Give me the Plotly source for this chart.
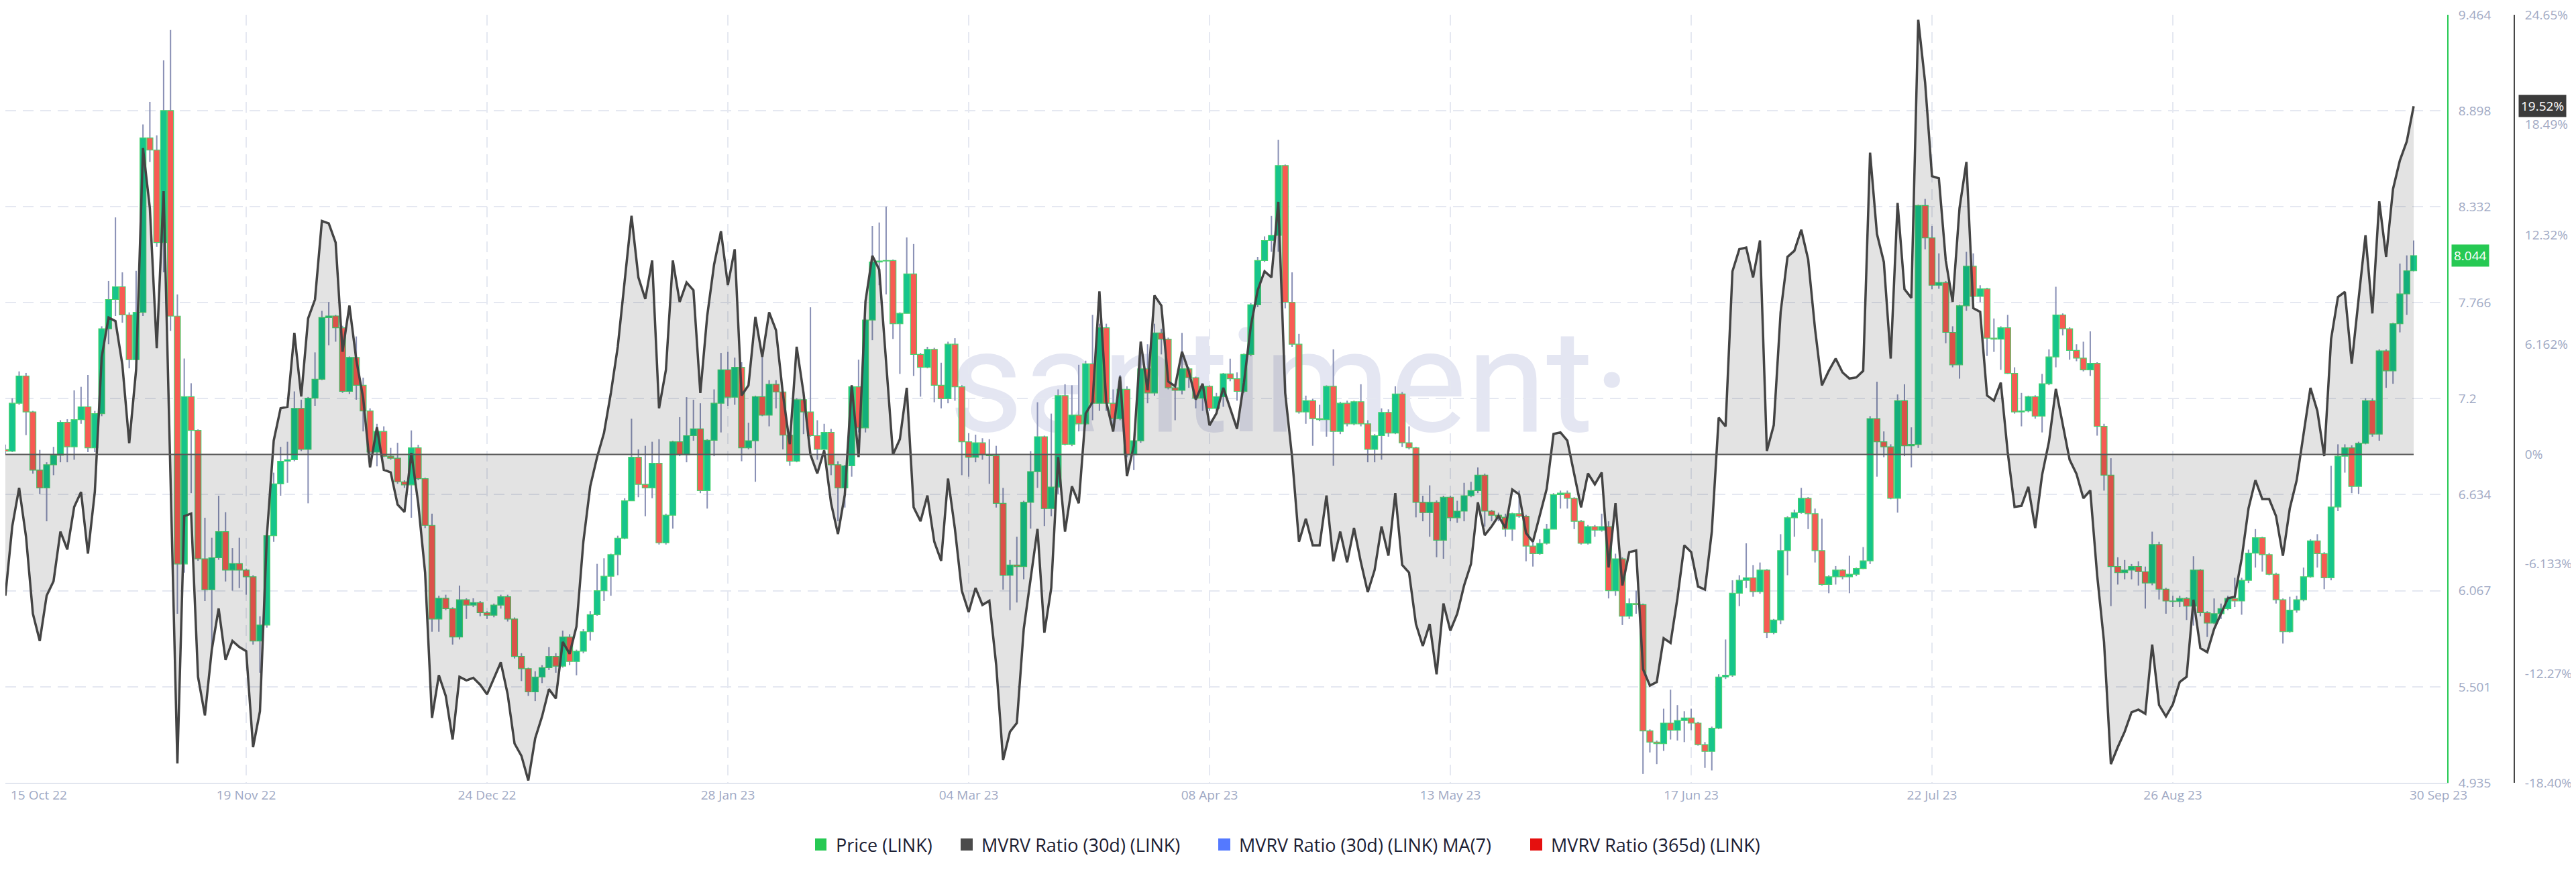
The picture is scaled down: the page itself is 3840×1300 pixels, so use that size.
import pandas as pd
import plotly.graph_objects as go

# ---------------- data ----------------
START_DATE = "2022-10-15"

opens = [
    6.90, 6.89, 7.173, 7.334, 7.122, 6.779, 6.674, 6.810, 6.867, 7.061,
    6.916, 7.076, 7.152, 6.910, 7.112, 7.612, 7.785, 7.860, 7.694, 7.430,
    7.709, 8.738, 8.666, 8.121, 8.899, 7.687, 6.225, 7.212, 7.013, 6.256,
    6.074, 6.262, 6.416, 6.189, 6.228, 6.189, 6.150, 5.771, 5.865, 6.392,
    6.698, 6.831, 6.840, 7.143, 6.901, 7.203, 7.315, 7.679, 7.688, 7.618,
    7.243, 7.443, 7.279, 7.128, 6.885, 7.007, 6.861, 6.849, 6.710, 6.692,
    6.910, 6.728, 6.453, 5.901, 6.023, 5.962, 5.795, 6.014, 5.983, 5.998,
    5.938, 5.923, 5.983, 6.032, 5.901, 5.680, 5.608, 5.471, 5.559, 5.614,
    5.680, 5.623, 5.795, 5.650, 5.711, 5.826, 5.926, 6.068, 6.153, 6.280,
    6.377, 6.598, 6.855, 6.695, 6.674, 6.819, 6.350, 6.513, 6.946, 6.870,
    6.982, 7.022, 6.658, 6.955, 7.173, 7.370, 7.209, 7.385, 6.910, 6.952,
    7.212, 7.103, 7.285, 7.240, 6.985, 6.831, 7.194, 7.122, 6.982, 6.901,
    7.001, 6.810, 6.674, 6.804, 7.270, 7.028, 7.664, 8.006, 8.012, 8.015,
    7.642, 7.703, 7.936, 7.461, 7.385, 7.491, 7.279, 7.200, 7.521, 7.270,
    6.946, 6.855, 6.940, 6.870, 6.864, 6.583, 6.159, 6.219, 6.210, 6.589,
    6.770, 6.976, 6.552, 6.679, 7.218, 6.931, 7.103, 7.052, 7.406, 7.173,
    7.618, 7.173, 7.082, 7.255, 6.870, 6.952, 7.376, 7.234, 7.588, 7.551,
    7.264, 7.249, 7.376, 7.324, 7.203, 7.273, 7.143, 7.212, 7.346, 7.318,
    7.243, 7.461, 7.754, 8.015, 8.133, 8.163, 8.575, 7.769, 7.521, 7.122,
    7.188, 7.082, 7.076, 7.273, 7.007, 7.173, 7.052, 7.182, 7.052, 6.901,
    6.982, 7.119, 6.997, 7.228, 6.940, 6.910, 6.589, 6.528, 6.589, 6.365,
    6.619, 6.498, 6.537, 6.628, 6.658, 6.749, 6.537, 6.513, 6.501, 6.431,
    6.522, 6.507, 6.331, 6.286, 6.347, 6.431, 6.634, 6.643, 6.613, 6.477,
    6.347, 6.446, 6.425, 6.446, 6.068, 6.256, 5.917, 5.992, 5.986, 5.241,
    5.175, 5.166, 5.287, 5.245, 5.302, 5.317, 5.287, 5.160, 5.120, 5.257,
    5.559, 5.569, 6.053, 6.129, 6.144, 6.062, 6.189, 5.820, 5.895, 6.304,
    6.498, 6.528, 6.613, 6.522, 6.304, 6.104, 6.150, 6.189, 6.150, 6.165,
    6.198, 6.244, 7.082, 6.946, 6.916, 6.613, 7.188, 6.922, 6.930, 8.339,
    8.148, 7.869, 7.885, 7.591, 7.400, 7.748, 7.981, 7.803, 7.848, 7.557,
    7.551, 7.618, 7.349, 7.122, 7.128, 7.212, 7.097, 7.288, 7.446, 7.694,
    7.612, 7.485, 7.439, 7.370, 7.409, 7.037, 6.749, 6.210, 6.174, 6.189,
    6.210, 6.180, 6.113, 6.340, 6.077, 6.007, 6.004, 6.022, 5.977, 6.189,
    5.938, 5.877, 5.932, 5.962, 6.022, 6.007, 6.129, 6.289, 6.380, 6.280,
    6.165, 6.014, 5.826, 5.953, 6.014, 6.150, 6.362, 6.286, 6.144, 6.561,
    6.861, 6.910, 6.683, 6.937, 7.188, 6.991, 7.482, 7.364, 7.642, 7.818, 7.954,
]

closes = [
    6.89, 7.173, 7.334, 7.122, 6.779, 6.674, 6.810, 6.867, 7.061, 6.916,
    7.076, 7.152, 6.910, 7.112, 7.612, 7.785, 7.860, 7.694, 7.430, 7.709,
    8.738, 8.666, 8.121, 8.899, 7.687, 6.225, 7.212, 7.013, 6.256, 6.074,
    6.262, 6.416, 6.189, 6.228, 6.189, 6.150, 5.771, 5.865, 6.392, 6.698,
    6.831, 6.840, 7.143, 6.901, 7.203, 7.315, 7.679, 7.688, 7.618, 7.243,
    7.443, 7.279, 7.128, 6.885, 7.007, 6.861, 6.849, 6.710, 6.692, 6.910,
    6.728, 6.453, 5.901, 6.023, 5.962, 5.795, 6.014, 5.983, 5.998, 5.938,
    5.923, 5.983, 6.032, 5.901, 5.680, 5.608, 5.471, 5.559, 5.614, 5.680,
    5.623, 5.795, 5.650, 5.711, 5.826, 5.926, 6.068, 6.153, 6.280, 6.377,
    6.598, 6.855, 6.695, 6.674, 6.819, 6.350, 6.513, 6.946, 6.870, 6.982,
    7.022, 6.658, 6.955, 7.173, 7.370, 7.209, 7.385, 6.910, 6.952, 7.212,
    7.103, 7.285, 7.240, 6.985, 6.831, 7.194, 7.122, 6.982, 6.901, 7.001,
    6.810, 6.674, 6.804, 7.270, 7.028, 7.664, 8.006, 8.012, 8.015, 7.642,
    7.703, 7.936, 7.461, 7.385, 7.491, 7.279, 7.200, 7.521, 7.270, 6.946,
    6.855, 6.940, 6.870, 6.864, 6.583, 6.159, 6.219, 6.210, 6.589, 6.770,
    6.976, 6.552, 6.679, 7.218, 6.931, 7.103, 7.052, 7.406, 7.173, 7.618,
    7.173, 7.082, 7.255, 6.870, 6.952, 7.376, 7.234, 7.588, 7.551, 7.264,
    7.249, 7.376, 7.324, 7.203, 7.273, 7.143, 7.212, 7.346, 7.318, 7.243,
    7.461, 7.754, 8.015, 8.133, 8.163, 8.575, 7.769, 7.521, 7.122, 7.188,
    7.082, 7.076, 7.273, 7.007, 7.173, 7.052, 7.182, 7.052, 6.901, 6.982,
    7.119, 6.997, 7.228, 6.940, 6.910, 6.589, 6.528, 6.589, 6.365, 6.619,
    6.498, 6.537, 6.628, 6.658, 6.749, 6.537, 6.513, 6.501, 6.431, 6.522,
    6.507, 6.331, 6.286, 6.347, 6.431, 6.634, 6.643, 6.613, 6.477, 6.347,
    6.446, 6.425, 6.446, 6.068, 6.256, 5.917, 5.992, 5.986, 5.241, 5.175,
    5.166, 5.287, 5.245, 5.302, 5.317, 5.287, 5.160, 5.120, 5.257, 5.559,
    5.569, 6.053, 6.129, 6.144, 6.062, 6.189, 5.820, 5.895, 6.304, 6.498,
    6.528, 6.613, 6.522, 6.304, 6.104, 6.150, 6.189, 6.150, 6.165, 6.198,
    6.244, 7.082, 6.946, 6.916, 6.613, 7.188, 6.922, 6.930, 8.339, 8.148,
    7.869, 7.885, 7.591, 7.400, 7.748, 7.981, 7.803, 7.848, 7.557, 7.551,
    7.618, 7.349, 7.122, 7.128, 7.212, 7.097, 7.288, 7.446, 7.694, 7.612,
    7.485, 7.439, 7.370, 7.409, 7.037, 6.749, 6.210, 6.174, 6.189, 6.210,
    6.180, 6.113, 6.340, 6.077, 6.007, 6.004, 6.022, 5.977, 6.189, 5.938,
    5.877, 5.932, 5.962, 6.022, 6.007, 6.129, 6.289, 6.380, 6.280, 6.165,
    6.014, 5.826, 5.953, 6.014, 6.150, 6.362, 6.286, 6.144, 6.561, 6.861,
    6.910, 6.683, 6.937, 7.188, 6.991, 7.482, 7.364, 7.642, 7.818, 7.954, 8.044,
]

highs = [
    6.93, 7.203, 7.361, 7.352, 7.128, 6.898, 6.825, 6.916, 7.073, 7.079,
    7.249, 7.270, 7.340, 7.128, 7.627, 7.894, 8.269, 7.945, 7.709, 7.954,
    8.817, 8.950, 8.753, 9.195, 9.374, 7.815, 7.437, 7.291, 7.019, 6.498,
    6.380, 6.628, 6.531, 6.319, 6.380, 6.198, 6.159, 5.917, 6.401, 6.764,
    6.916, 6.946, 7.243, 7.194, 7.210, 7.473, 7.718, 7.770, 7.694, 7.630,
    7.449, 7.567, 7.324, 7.143, 7.052, 7.037, 6.910, 6.940, 6.719, 7.013,
    6.928, 6.734, 6.522, 6.038, 6.044, 5.970, 6.098, 6.023, 6.023, 6.007,
    5.947, 5.992, 6.044, 6.044, 5.910, 5.699, 5.614, 5.593, 5.629, 5.735,
    5.699, 5.832, 5.811, 5.720, 5.841, 5.947, 6.226, 6.259, 6.286, 6.392,
    6.613, 7.082, 6.901, 6.922, 6.946, 6.961, 6.522, 6.952, 7.091, 7.209,
    7.194, 7.173, 6.961, 7.255, 7.470, 7.476, 7.442, 7.415, 7.058, 7.218,
    7.445, 7.309, 7.309, 7.243, 6.990, 7.203, 7.203, 7.739, 7.073, 7.052,
    7.022, 6.831, 6.810, 7.279, 7.430, 7.673, 8.218, 8.239, 8.333, 8.021,
    7.709, 8.151, 8.112, 7.470, 7.506, 7.500, 7.412, 7.536, 7.557, 7.280,
    6.997, 6.988, 6.967, 6.961, 6.922, 6.674, 6.249, 6.386, 6.598, 6.891,
    7.179, 6.982, 7.112, 7.255, 7.285, 7.279, 7.400, 7.424, 7.694, 7.642,
    7.642, 7.255, 7.340, 7.273, 6.961, 7.521, 7.521, 7.642, 7.612, 7.560,
    7.279, 7.588, 7.385, 7.330, 7.279, 7.279, 7.234, 7.352, 7.436, 7.355,
    7.467, 7.763, 8.036, 8.157, 8.278, 8.726, 8.581, 7.945, 7.582, 7.218,
    7.200, 7.164, 7.279, 7.491, 7.182, 7.188, 7.188, 7.285, 7.073, 6.991,
    7.143, 7.137, 7.273, 7.240, 7.037, 6.916, 6.628, 6.689, 6.600, 6.628,
    6.628, 6.598, 6.704, 6.710, 6.795, 6.758, 6.545, 6.528, 6.522, 6.528,
    6.658, 6.515, 6.356, 6.371, 6.462, 6.643, 6.658, 6.658, 6.619, 6.485,
    6.455, 6.455, 6.522, 6.477, 6.286, 6.265, 6.022, 6.068, 5.992, 5.250,
    5.184, 5.372, 5.484, 5.393, 5.357, 5.372, 5.295, 5.175, 5.266, 5.575,
    5.780, 6.129, 6.159, 6.347, 6.219, 6.234, 6.195, 5.901, 6.401, 6.507,
    6.546, 6.674, 6.620, 6.552, 6.492, 6.159, 6.213, 6.195, 6.274, 6.204,
    6.325, 7.097, 7.300, 7.007, 6.931, 7.225, 7.285, 7.031, 8.345, 8.378,
    8.218, 8.057, 7.894, 7.627, 7.754, 8.066, 8.057, 7.869, 7.854, 7.673,
    7.627, 7.694, 7.385, 7.234, 7.218, 7.220, 7.346, 7.491, 7.860, 7.703,
    7.621, 7.521, 7.536, 7.597, 7.415, 7.052, 6.849, 6.265, 6.249, 6.225,
    6.241, 6.210, 6.416, 6.356, 6.085, 6.038, 6.038, 6.030, 6.271, 6.195,
    5.947, 6.022, 5.992, 6.038, 6.144, 6.144, 6.310, 6.431, 6.386, 6.290,
    6.174, 6.022, 6.032, 6.038, 6.204, 6.371, 6.401, 6.295, 6.804, 6.931,
    6.931, 6.925, 6.946, 7.203, 7.203, 7.491, 7.491, 7.648, 7.997, 8.045, 8.133,
]

lows = [
    6.87, 6.885, 7.164, 6.985, 6.758, 6.637, 6.477, 6.749, 6.825, 6.825,
    6.840, 7.052, 6.885, 6.885, 7.097, 7.521, 7.688, 7.648, 7.379, 7.430,
    7.688, 8.596, 8.096, 7.945, 7.600, 5.932, 6.174, 6.643, 6.244, 6.007,
    5.735, 6.250, 6.122, 6.068, 6.083, 6.044, 5.750, 5.584, 5.850, 6.356,
    6.628, 6.704, 6.831, 6.891, 6.583, 7.158, 7.309, 7.515, 7.536, 7.234,
    7.228, 7.194, 7.007, 6.870, 6.801, 6.855, 6.840, 6.698, 6.674, 6.498,
    6.719, 6.437, 5.826, 5.826, 5.953, 5.750, 5.780, 5.901, 5.971, 5.917,
    5.901, 5.911, 5.962, 5.886, 5.668, 5.535, 5.447, 5.417, 5.523, 5.600,
    5.584, 5.614, 5.629, 5.569, 5.699, 5.774, 5.920, 6.007, 6.038, 6.159,
    6.371, 6.598, 6.619, 6.507, 6.613, 6.340, 6.340, 6.434, 6.861, 6.825,
    6.952, 6.643, 6.552, 6.861, 7.001, 7.158, 7.164, 6.831, 6.901, 6.710,
    7.097, 7.037, 7.143, 6.901, 6.804, 6.825, 6.991, 6.976, 6.840, 6.885,
    6.749, 6.477, 6.558, 6.740, 7.001, 7.001, 7.545, 7.869, 7.815, 7.552,
    7.346, 7.703, 7.334, 7.212, 7.379, 7.179, 7.143, 7.173, 7.188, 6.749,
    6.740, 6.825, 6.840, 6.698, 6.558, 6.074, 5.953, 5.998, 6.135, 6.434,
    6.674, 6.449, 6.507, 6.637, 6.925, 6.920, 7.007, 7.043, 7.073, 7.128,
    7.128, 7.007, 7.073, 6.855, 6.779, 6.940, 7.173, 7.218, 7.461, 7.255,
    7.073, 7.225, 7.264, 7.143, 7.128, 7.128, 7.128, 7.152, 7.303, 7.188,
    7.234, 7.450, 7.740, 8.006, 8.066, 8.066, 7.733, 7.506, 7.112, 7.052,
    6.922, 7.067, 6.976, 6.804, 6.991, 7.037, 7.043, 7.037, 6.825, 6.825,
    6.840, 6.976, 6.991, 6.916, 6.901, 6.500, 6.477, 6.386, 6.265, 6.256,
    6.477, 6.468, 6.477, 6.619, 6.643, 6.446, 6.477, 6.477, 6.386, 6.362,
    6.498, 6.241, 6.210, 6.280, 6.340, 6.431, 6.552, 6.552, 6.431, 6.340,
    6.340, 6.386, 6.416, 6.022, 6.038, 5.865, 5.901, 5.932, 4.987, 5.114,
    5.045, 5.123, 5.190, 5.184, 5.175, 5.245, 5.154, 5.023, 5.008, 5.251,
    5.547, 5.560, 5.977, 6.083, 6.032, 6.050, 5.789, 5.811, 5.871, 6.159,
    6.386, 6.522, 6.431, 6.234, 6.098, 6.053, 6.104, 6.135, 6.053, 6.153,
    6.195, 6.225, 6.740, 6.855, 6.607, 6.528, 6.861, 6.795, 6.910, 8.081,
    7.845, 7.848, 7.527, 7.385, 7.318, 7.718, 7.779, 7.769, 7.452, 7.476,
    7.370, 7.346, 7.112, 7.037, 7.120, 7.082, 7.001, 7.280, 7.385, 7.573,
    7.430, 7.421, 7.361, 7.334, 6.982, 6.658, 5.977, 6.104, 6.135, 6.135,
    6.098, 5.962, 6.100, 6.016, 5.932, 5.971, 5.971, 5.895, 5.862, 5.917,
    5.795, 5.871, 5.901, 5.953, 5.971, 5.926, 6.113, 6.204, 6.180, 6.159,
    5.992, 5.756, 5.820, 5.938, 6.005, 6.144, 6.204, 6.077, 6.129, 6.537,
    6.764, 6.643, 6.637, 6.931, 6.976, 6.952, 7.264, 7.288, 7.591, 7.694, 7.951,
]

mvrv_30d = [
    -7.91, -4.03, -1.87, -4.6, -8.92, -10.45, -7.91, -7.1, -4.32, -5.32,
    -2.94, -2.1, -5.55, -2.1, 5.47, 7.68, 7.48, 5.04, 0.63, 4.75,
    17.18, 13.81, 5.96, 14.76, -1.3, -17.32, -3.45, -3.31, -12.46, -14.62,
    -10.94, -8.63, -11.51, -10.45, -10.79, -11.02, -16.4, -14.39, -4.6, 0.78,
    2.59, 2.68, 6.82, 3.25, 7.63, 8.69, 13.09, 12.95, 11.88, 5.76,
    8.35, 5.32, 3.17, -0.72, 1.53, -0.86, -1.0, -2.8, -3.22, 0.09,
    -2.73, -6.62, -14.76, -12.37, -13.53, -15.97, -12.46, -12.66, -12.52, -12.9,
    -13.44, -12.52, -11.65, -13.44, -16.2, -16.89, -18.27, -15.91, -14.68, -13.15,
    -13.67, -10.5, -11.17, -9.64, -4.89, -1.78, -0.14, 1.21, 3.45, 6.04,
    9.64, 13.38, 9.93, 8.72, 10.88, 2.59, 4.75, 10.88, 8.55, 9.64,
    9.21, 3.45, 7.77, 10.65, 12.52, 9.5, 11.51, 3.31, 3.88, 7.71,
    5.47, 7.97, 6.96, 3.4, 0.58, 6.04, 3.45, 0.0, -1.06, 0.23,
    -2.73, -4.46, -2.24, 3.88, -0.14, 8.58, 11.14, 10.36, 5.18, 0.0,
    0.86, 3.74, -2.96, -3.74, -2.3, -4.89, -5.96, -1.35, -4.17, -7.63,
    -8.83, -7.48, -8.43, -8.2, -11.8, -17.12, -15.54, -15.05, -9.78, -7.05,
    -4.17, -9.99, -7.48, -0.14, -4.32, -1.78, -2.73, 2.3, 2.94, 9.15,
    2.94, 1.29, 4.37, -1.21, 0.49, 6.33, 3.6, 8.92, 8.35, 4.09,
    3.83, 5.76, 4.66, 3.08, 3.97, 1.64, 2.3, 3.74, 2.59, 1.44,
    4.03, 7.19, 9.21, 10.27, 9.93, 14.16, 3.45, -0.14, -4.89, -3.6,
    -5.09, -5.09, -2.3, -5.99, -4.32, -6.04, -4.12, -6.04, -7.71, -6.47,
    -4.03, -5.67, -2.16, -6.19, -6.62, -9.5, -10.73, -9.5, -12.32, -8.35,
    -9.87, -8.92, -7.34, -6.13, -2.68, -4.52, -4.03, -3.45, -4.12, -1.96,
    -2.24, -4.4, -4.89, -3.45, -1.93, 1.15, 1.24, 0.78, -1.06, -2.96,
    -1.06, -1.67, -1.01, -6.33, -2.73, -7.34, -5.47, -5.38, -12.03, -12.95,
    -12.75, -10.3, -10.56, -8.06, -5.09, -5.47, -7.4, -7.57, -4.32, 2.07,
    1.58, 10.27, 11.51, 11.6, 9.93, 12.0, 0.2, 1.64, 7.97, 11.08,
    11.42, 12.6, 10.94, 7.05, 3.88, 4.69, 5.38, 4.6, 4.26, 4.32,
    4.69, 16.92, 12.37, 10.79, 5.38, 14.1, 9.27, 8.78, 24.37, 20.86,
    15.6, 15.48, 10.88, 8.55, 13.81, 16.4, 8.2, 8.0, 3.31, 3.02,
    4.03, 0.14, -2.94, -2.88, -1.81, -4.12, -1.15, 0.72, 3.68, 1.73,
    -0.29, -1.09, -2.45, -2.01, -6.76, -10.5, -17.35, -16.4, -15.54, -14.45,
    -14.3, -14.53, -10.65, -14.04, -14.68, -14.01, -12.75, -12.46, -8.14, -10.85,
    -11.08, -9.78, -8.92, -8.06, -7.97, -5.84, -3.02, -1.44, -2.5, -2.5,
    -3.45, -5.67, -3.02, -1.44, 1.15, 3.74, 2.45, -0.09, 6.47, 8.83,
    9.12, 5.09, 8.72, 12.29, 7.91, 14.19, 11.08, 14.88, 16.49, 17.55, 19.52,
]

price_ticks = [9.464, 8.898, 8.332, 7.766, 7.2, 6.634, 6.067, 5.501, 4.935]
price_tick_text = ["9.464", "8.898", "8.332", "7.766", "7.2", "6.634", "6.067", "5.501", "4.935"]
mvrv_ticks = [24.65, 18.49, 12.32, 6.162, 0, -6.133, -12.27, -18.40]
mvrv_tick_text = ["24.65%", "18.49%", "12.32%", "6.162%", "0%", "-6.133%", "-12.27%", "-18.40%"]
x_tick_dates = ["2022-10-15", "2022-11-19", "2022-12-24", "2023-01-28", "2023-03-04", "2023-04-08",
                "2023-05-13", "2023-06-17", "2023-07-22", "2023-08-26", "2023-09-30"]
x_tick_labels = ["15 Oct 22", "19 Nov 22", "24 Dec 22", "28 Jan 23", "04 Mar 23", "08 Apr 23",
                 "13 May 23", "17 Jun 23", "22 Jul 23", "26 Aug 23", "30 Sep 23"]
legend_names = ["Price (LINK)", "MVRV Ratio (30d) (LINK)", "MVRV Ratio (30d) (LINK) MA(7)", "MVRV Ratio (365d) (LINK)"]
legend_colors = ["#26c953", "#4b4b4b", "#5479ff", "#e5100f"]

n = len(closes)
assert len(opens) == n and len(highs) == n and len(lows) == n and len(mvrv_30d) == n
dates = pd.date_range(START_DATE, periods=n, freq="D")

# ---------------- geometry ----------------
W, H = 3840, 1300
ML, MR, MT, MB = 0, 100, 14, 141
PAPER_W = W - ML - MR          # 3740
PAPER_H = H - MT - MB          # 1145
PLOT_RIGHT = 3640              # price-axis line


def px(x):
    return (x - ML) / PAPER_W


def py(y):
    return (H - MB - y) / PAPER_H


DAY_MS = 86400000
TICK_FONT = dict(family="Open Sans", size=19, color="#a0a9c4")
GRID = dict(showgrid=True, gridcolor="#e5e8f1", gridwidth=2, griddash="16px,10px")

up_body, dn_body, border = "#16c58b", "#f85b53", "#49d26f"
wick_color = "#8a91b6"

fig = go.Figure()

# wicks
fig.add_trace(go.Bar(
    x=dates, y=[h - l for h, l in zip(highs, lows)], base=lows,
    width=0.2 * DAY_MS, marker=dict(color=wick_color, line=dict(width=0)),
    yaxis="y", hoverinfo="skip", showlegend=False,
))
# bodies
fig.add_trace(go.Bar(
    x=dates, y=[abs(c - o) for o, c in zip(opens, closes)],
    base=[min(o, c) for o, c in zip(opens, closes)],
    width=0.88 * DAY_MS,
    marker=dict(color=[up_body if c >= o else dn_body for o, c in zip(opens, closes)],
                line=dict(color=border, width=1.2)),
    yaxis="y", showlegend=False, name="Price (LINK)",
))
# MVRV
fig.add_trace(go.Scatter(
    x=dates, y=mvrv_30d, yaxis="y2", mode="lines",
    line=dict(color="#444444", width=3.5),
    fill="tozeroy", fillcolor="rgba(0,0,0,0.11)",
    showlegend=False, name="MVRV Ratio (30d) (LINK)",
))

shapes = [
    # zero baseline of MVRV
    dict(type="line", xref="x", yref="y2", x0=dates[0], x1=dates[-1], y0=0, y1=0,
         line=dict(color="#585858", width=2), layer="above"),
    # watermark
    dict(type="rect", xref="paper", yref="paper", x0=px(1380), x1=px(2450), y0=py(700), y1=py(390),
         line=dict(width=0), fillcolor="rgba(0,0,0,0)", layer="below",
         label=dict(text="santiment·", textposition="middle center",
                    font=dict(family="Roboto", size=215, color="#e4e6f2"))),
]

annotations = []
# legend
leg_sq = [(1207, 1224), (1424, 1442), (1808, 1826), (2273, 2291)]
leg_tx = [1236, 1453, 1837, 2302]
for (x0, x1), xt, name, col in zip(leg_sq, leg_tx, legend_names, legend_colors):
    shapes.append(dict(type="rect", xref="paper", yref="paper", x0=px(x0), x1=px(x1),
                       y0=py(1260), y1=py(1242), line=dict(width=0), fillcolor=col))
    annotations.append(dict(text=name, xref="paper", yref="paper", x=px(xt), y=py(1251),
                            xanchor="left", yanchor="middle", showarrow=False,
                            font=dict(family="Open Sans", size=27, color="#1c2033")))

# first / last date labels
annotations.append(dict(text=x_tick_labels[0], xref="x", yref="paper", x=x_tick_dates[0], y=py(1177),
                        xanchor="left", yanchor="middle", xshift=6, showarrow=False, font=TICK_FONT))
annotations.append(dict(text=x_tick_labels[-1], xref="x", yref="paper", x=x_tick_dates[-1], y=py(1177),
                        xanchor="left", yanchor="middle", xshift=-8, showarrow=False, font=TICK_FONT))
# last-value boxes
annotations.append(dict(text=f"{closes[-1]:.3f}", xref="paper", yref="y", x=px(3646), y=closes[-1],
                        xanchor="left", yanchor="middle", showarrow=False, bgcolor="#26c953",
                        borderpad=3, font=dict(family="Open Sans", size=19, color="white")))
annotations.append(dict(text=f"{mvrv_30d[-1]:.2f}%", xref="paper", yref="y2", x=px(3746), y=mvrv_30d[-1],
                        xanchor="left", yanchor="middle", showarrow=False, bgcolor="#3b3b3b",
                        borderpad=3, font=dict(family="Open Sans", size=19, color="white")))

fig.update_layout(
    width=W, height=H,
    margin=dict(l=ML, r=MR, t=MT, b=MB),
    paper_bgcolor="white", plot_bgcolor="white",
    barmode="overlay", showlegend=False,
    xaxis=dict(type="date", domain=[0, px(PLOT_RIGHT)],
               range=["2022-10-15 00:00", "2023-10-04 21:00"],
               tickvals=x_tick_dates[:-1], ticktext=[""] + x_tick_labels[1:-1],
               tickfont=TICK_FONT, ticks="", ticklabelstandoff=0,
               showline=True, linecolor="#e2e6ef", linewidth=2, zeroline=False,
               automargin=False, **GRID),
    yaxis=dict(range=[4.935, 9.464], side="right", anchor="x",
               tickvals=price_ticks, ticktext=price_tick_text, tickfont=TICK_FONT,
               ticks="", ticklabelstandoff=11, showline=True, linecolor="#26c953", linewidth=2,
               zeroline=False, automargin=False, **GRID),
    yaxis2=dict(range=[-18.40, 24.65], overlaying="y", side="right", anchor="free", position=1.0,
                tickvals=mvrv_ticks, ticktext=mvrv_tick_text, tickfont=TICK_FONT,
                ticks="", ticklabelstandoff=11, showline=True, linecolor="#474747", linewidth=2,
                showgrid=False, zeroline=False, automargin=False),
    shapes=shapes, annotations=annotations,
)

fig.write_html("out.html")
